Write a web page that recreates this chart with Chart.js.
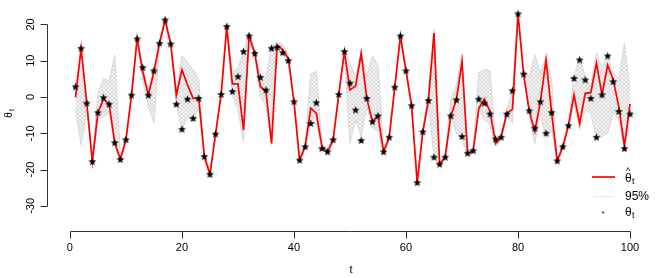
<!DOCTYPE html>
<html>
<head>
<meta charset="utf-8">
<script src="https://cdn.jsdelivr.net/npm/chart.js@4.4.1/dist/chart.umd.min.js"></script>
<style>
  html, body { margin: 0; padding: 0; background: #fff; }
  canvas { display: block; }
</style>
</head>
<body>
<canvas id="chart" width="657" height="278"></canvas>
<script>
	// ******************************************************** DATA

	var thetaObs = [
		2.8, 13.4, -1.7, -17.8, -4.3, -0.2, -2.0, -12.6, -17.2, -11.8,
		0.5, 16.0, 8.1, 0.5, 7.2, 14.8, 21.2, 14.6, -2.0, -8.9,
		-0.6, -5.9, -0.4, -16.4, -21.3, -10.2, 0.7, 19.4, 1.5, 5.6,
		12.5, 16.8, 12.0, 5.4, 1.9, 13.4, 13.7, 12.2, 10.0, -1.3,
		-17.4, -13.7, -7.3, -1.6, -14.2, -15.1, -11.8, 0.7, 12.5, 3.8,
		-3.6, -12.0, -0.4, -6.8, -5.2, -15.1, -11.1, 2.7, 16.8, 7.2,
		-2.4, -23.6, -9.6, -1.0, -16.6, -18.5, -16.6, -5.2, -0.8, -10.9,
		-15.5, -14.8, -0.6, -1.7, -4.7, -11.6, -11.1, -4.7, 1.7, 22.9,
		6.3, -3.8, -8.6, -1.3, -10.0, -4.3, -17.6, -13.7, -7.9, 5.1,
		10.2, 4.7, -0.4, -11.1, 0.6, 11.3, 4.2, -4.0, -14.2, -4.7
	];

	var thetaHat = [
		-0.1, 13.4, -1.5, -17.8, -4.3, -0.6, -2.0, -12.6, -17.2, -11.8,
		0.5, 16.1, 7.0, 0.5, 7.0, 14.8, 21.2, 14.6, 0.5, 7.5,
		3.3, -0.4, -0.4, -16.4, -21.3, -10.2, 0.7, 19.4, 3.6, 3.6,
		-9.1, 16.8, 12.0, 2.9, 1.5, -12.8, 14.3, 13.0, 10.6, -1.3,
		-17.4, -13.7, -3.1, -4.5, -13.7, -15.1, -11.8, 0.7, 12.5, 1.9,
		3.0, 12.0, -0.4, -6.8, -5.2, -15.1, -11.1, 2.7, 16.8, 7.2,
		-2.4, -23.6, -9.6, -1.0, 17.6, -18.5, -16.6, -5.2, -0.8, 9.7,
		-15.5, -14.8, -3.1, -0.6, -4.0, -12.8, -10.9, -4.5, -3.4, 22.9,
		6.3, -3.9, -9.5, -1.3, 10.2, -4.3, -17.6, -13.7, -7.9, 0.6,
		-7.3, 1.0, 1.2, 9.3, 0.6, 8.8, 4.7, -2.7, -13.5, -1.9
	];

	var bandUpper = [
		2.5, 13.0, -0.8, -17.0, 1.0, 5.1, 4.3, 11.6, -16.5, -11.0,
		1.3, 16.8, 8.3, 2.0, 7.6, 15.5, 22.0, 15.3, 2.0, 11.3,
		9.4, 7.6, 4.9, -15.6, -20.5, -9.4, 1.5, 20.2, 6.5, 8.1,
		12.5, 17.6, 12.8, 6.5, 5.1, 13.9, 15.2, 14.3, 11.6, -0.5,
		-16.6, -12.9, 6.5, 7.0, -13.0, -14.3, -11.0, 1.5, 13.3, 9.3,
		5.6, 12.9, 5.6, 11.3, 8.6, -14.3, -10.3, 3.5, 17.6, 8.0,
		-1.6, -22.8, -8.8, 1.4, 18.6, -17.7, -15.8, -0.8, 3.3, 12.0,
		-14.7, -14.0, 6.7, 7.6, 7.2, -12.0, -10.1, -3.5, 1.9, 23.7,
		7.6, 5.6, 11.6, 6.5, 11.1, 4.7, -16.8, -12.9, -7.1, 5.6,
		11.1, 5.6, 3.3, 12.0, 8.1, 11.1, 6.5, 5.0, 14.8, 1.7
	];

	var bandLower = [
		-3.5, -13.2, -2.7, -18.5, -6.3, -5.4, -4.5, -13.2, -18.0, -12.5,
		-0.3, 15.4, 4.6, -2.6, -7.3, 14.0, 20.5, 13.9, -2.2, -9.1,
		-5.4, -6.8, -2.5, -17.2, -22.0, -11.0, -0.1, 18.6, 0.5, -3.6,
		-12.3, 16.0, 11.2, 0.1, -2.6, -13.2, 13.4, 12.0, 9.3, -2.1,
		-18.2, -14.5, -7.3, -7.3, -14.5, -15.9, -12.6, -0.1, 11.7, -12.8,
		-6.3, -11.0, -2.6, -8.6, -9.5, -15.9, -11.9, 1.9, 16.0, 6.4,
		-3.2, -24.4, -10.4, -2.0, -16.4, -19.3, -17.4, -5.6, -10.0, -11.8,
		-16.3, -15.6, -3.6, -6.3, -7.7, -13.6, -11.7, -5.5, -7.3, 22.1,
		5.5, -4.5, -12.8, -4.5, -11.4, -9.1, -18.4, -14.5, -8.7, -1.7,
		-9.1, -3.6, -4.5, -11.8, -10.9, -10.0, -4.5, -6.3, -14.8, -5.6
	];

	var xTicks = [0, 20, 40, 60, 80, 100];
	var yTicks = [-30, -20, -10, 0, 10, 20];

	function toPoints(arr) {
		return arr.map(function (v, i) { return { x: i + 1, y: v }; });
	}

	// ******************************************************** STYLE HELPERS

	var FONT = '"Liberation Sans", Arial, Helvetica, sans-serif';

	// cross hatch fill for the 95% band
	var hatch = document.createElement('canvas');
	hatch.width = 4; hatch.height = 4;
	var hctx = hatch.getContext('2d');
	hctx.fillStyle = '#f6f6f6';
	hctx.fillRect(0, 0, 4, 4);
	hctx.strokeStyle = '#d2d2d2';
	hctx.lineWidth = 0.8;
	hctx.beginPath();
	hctx.moveTo(0, 0); hctx.lineTo(4, 4);
	hctx.moveTo(0, 4); hctx.lineTo(4, 0);
	hctx.stroke();

	// star marker
	var star = document.createElement('canvas');
	star.width = 9; star.height = 9;
	var sctx = star.getContext('2d');
	sctx.fillStyle = '#000';
	sctx.beginPath();
	for (var k = 0; k < 10; k++) {
		var r = (k % 2 === 0) ? 4.2 : 1.8;
		var a = -Math.PI / 2 + k * Math.PI / 5;
		var px = 4.5 + r * Math.cos(a), py = 4.7 + r * Math.sin(a);
		if (k === 0) sctx.moveTo(px, py); else sctx.lineTo(px, py);
	}
	sctx.closePath();
	sctx.fill();

	// ******************************************************** AXES + LEGEND (R style)

	var rAxes = {
		id: 'rAxes',
		afterDraw: function (chart) {
			var ctx = chart.ctx, xs = chart.scales.x, ys = chart.scales.y;
			ctx.save();
			ctx.strokeStyle = '#333';
			ctx.lineWidth = 1;
			ctx.fillStyle = '#000';
			ctx.font = '11px ' + FONT;

			// x axis
			var ay = 231.5;
			ctx.beginPath();
			ctx.moveTo(Math.round(xs.getPixelForValue(xTicks[0])) + 0.5, ay);
			ctx.lineTo(Math.round(xs.getPixelForValue(xTicks[xTicks.length - 1])) + 0.5, ay);
			xTicks.forEach(function (v) {
				var px = Math.round(xs.getPixelForValue(v)) + 0.5;
				ctx.moveTo(px, ay); ctx.lineTo(px, ay + 7);
			});
			ctx.stroke();
			ctx.textAlign = 'center';
			ctx.textBaseline = 'middle';
			xTicks.forEach(function (v) {
				ctx.fillText(String(v), xs.getPixelForValue(v), 248);
			});
			ctx.fillText('t', 351, 270);

			// y axis
			var ax = 47.5;
			ctx.beginPath();
			ctx.moveTo(ax, Math.round(ys.getPixelForValue(yTicks[0])) + 0.5);
			ctx.lineTo(ax, Math.round(ys.getPixelForValue(yTicks[yTicks.length - 1])) + 0.5);
			yTicks.forEach(function (v) {
				var py = Math.round(ys.getPixelForValue(v)) + 0.5;
				ctx.moveTo(ax, py); ctx.lineTo(ax - 7, py);
			});
			ctx.stroke();
			yTicks.forEach(function (v) {
				ctx.save();
				ctx.translate(31, ys.getPixelForValue(v));
				ctx.rotate(-Math.PI / 2);
				ctx.fillText(String(v), 0, 0);
				ctx.restore();
			});

			// y title θ_t
			ctx.save();
			ctx.translate(9, 113);
			ctx.rotate(-Math.PI / 2);
			ctx.font = '10px ' + FONT;
			ctx.fillText('\u03b8', -2, 0);
			ctx.font = '7px ' + FONT;
			ctx.fillText('t', 3, 3);
			ctx.restore();

			// legend
			ctx.strokeStyle = 'red';
			ctx.lineWidth = 1.7;
			ctx.beginPath(); ctx.moveTo(592, 177); ctx.lineTo(615, 177); ctx.stroke();
			ctx.strokeStyle = '#d6d6d6';
			ctx.lineWidth = 1;
			ctx.setLineDash([1, 1]);
			ctx.beginPath(); ctx.moveTo(594, 196.5); ctx.lineTo(614, 196.5); ctx.stroke();
			ctx.setLineDash([]);

			ctx.textAlign = 'left';
			ctx.font = '12px ' + FONT;
			ctx.fillText('\u03b8', 625, 179);
			ctx.fillText('\u03b8', 625, 213);
			ctx.fillText('95%', 625, 197);
			ctx.font = '9px ' + FONT;
			ctx.fillText('^', 626, 172);
			ctx.fillText('t', 632, 182);
			ctx.fillText('t', 632, 216);
			ctx.textAlign = 'center';
			ctx.font = '8px ' + FONT;
			ctx.fillText('*', 603, 214);
			ctx.restore();
		}
	};

	// ******************************************************** CHART

	var _ctx = document.getElementById('chart').getContext('2d');

	window.myChart = new Chart(_ctx, {
		type: 'line',
		data: {
			datasets: [{
				label: 'theta',
				data: toPoints(thetaObs),
				showLine: false,
				pointStyle: star,
				pointRadius: 4,
				borderColor: '#000',
				backgroundColor: '#000'
			}, {
				label: 'theta hat',
				data: toPoints(thetaHat),
				borderColor: 'red',
				borderWidth: 1.7,
				pointRadius: 0,
				fill: false,
				tension: 0
			}, {
				label: 'lower',
				data: toPoints(bandLower),
				borderColor: '#d8d8d8',
				borderWidth: 1,
				pointRadius: 0,
				fill: false,
				tension: 0
			}, {
				label: 'upper',
				data: toPoints(bandUpper),
				borderColor: '#d8d8d8',
				borderWidth: 1,
				pointRadius: 0,
				fill: 2,
				backgroundColor: _ctx.createPattern(hatch, 'repeat'),
				tension: 0
			}]
		},
		options: {
			responsive: false,
			animation: false,
			devicePixelRatio: 1,
			layout: { padding: { left: 53, right: 3, top: 5, bottom: 64 } },
			scales: {
				x: { type: 'linear', min: -3.02, max: 103.92, display: false },
				y: { type: 'linear', min: -32.24, max: 25.34, display: false }
			},
			plugins: {
				legend: { display: false },
				tooltip: { enabled: false }
			}
		},
		plugins: [rAxes]
	});
</script>
</body>
</html>
